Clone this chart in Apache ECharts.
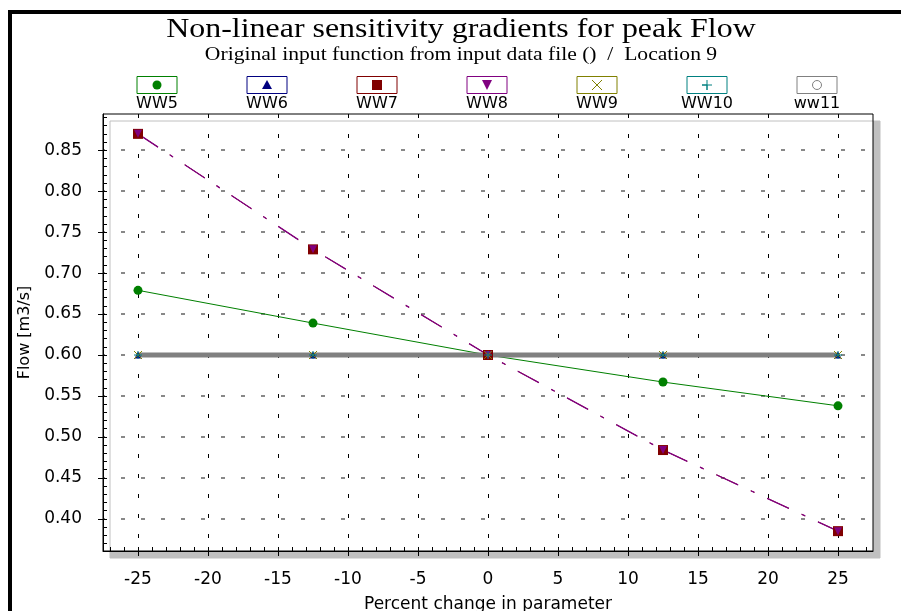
<!DOCTYPE html>
<html>
<head>
<meta charset="utf-8">
<script src="https://cdn.jsdelivr.net/npm/echarts@6/dist/echarts.min.js"></script>
<style>html,body{margin:0;padding:0;background:#fff}#c{width:901px;height:611px}</style>
</head>
<body>
<div id="c"></div>
<script>
// ---- data ----
const xValues = [-25, -12.5, 0, 12.5, 25];
const seriesNames = ['WW5', 'WW6', 'WW7', 'WW8', 'WW9', 'WW10', 'ww11'];
const ww5  = [0.679, 0.639, 0.600, 0.567, 0.538];
const ww6  = [0.600, 0.600, 0.600, 0.600, 0.600];
const ww7  = [0.870, 0.729, 0.600, 0.484, 0.385];
const ww8  = [0.870, 0.729, 0.600, 0.484, 0.385];
const ww9  = [0.600, 0.600, 0.600, 0.600, 0.600];
const ww10 = [0.600, 0.600, 0.600, 0.600, 0.600];
const ww11 = [0.600, 0.600, 0.600, 0.600, 0.600];
const xTickLabels = [-25, -20, -15, -10, -5, 0, 5, 10, 15, 20, 25];
const yTickLabels = [0.40, 0.45, 0.50, 0.55, 0.60, 0.65, 0.70, 0.75, 0.80, 0.85];

// ---- styling ----
const colors = ['#008000', '#000080', '#800000', '#800080', '#808000', '#008080', '#808080'];
const xMin = -27.5, xMax = 27.5, yMin = 0.36075, yMax = 0.89425;
const xMinor = []; for (let v = -27; v <= 27; v++) xMinor.push(v);
const yMinor = []; for (let k = 37; k <= 89; k++) yMinor.push(k / 100);
const SANS = '"DejaVu Sans", Verdana, sans-serif';

const G = {left: 103, top: 114, width: 770, height: 437};
const pair = arr => arr.map((v, i) => [xValues[i], v]);

const crossPath = 'path://M0,0L10,10M10,0L0,10';
const plusPath = 'path://M5,0L5,10M0,5L10,5';
const dashDot = [24, 14, 4, 14];

const series = [
  {name: 'WW5', data: pair(ww5), symbol: 'circle', symbolSize: 9,
   itemStyle: {color: colors[0]}, lineStyle: {color: colors[0], width: 1}},
  {name: 'WW6', data: pair(ww6), symbol: 'triangle', symbolSize: 7,
   itemStyle: {color: colors[1]}, lineStyle: {color: colors[1], width: 1}},
  {name: 'WW7', data: pair(ww7), symbol: 'rect', symbolSize: 10,
   itemStyle: {color: colors[2]}, lineStyle: {color: colors[2], width: 1, type: dashDot}},
  {name: 'WW8', data: pair(ww8), symbol: 'triangle', symbolRotate: 180, symbolSize: 8,
   itemStyle: {color: colors[3]}, lineStyle: {color: colors[3], width: 1.3, type: dashDot}},
  {name: 'WW9', data: pair(ww9), symbol: crossPath, symbolSize: 8,
   itemStyle: {color: 'none', borderColor: colors[4], borderWidth: 1}, lineStyle: {color: colors[4], width: 1}},
  {name: 'WW10', data: pair(ww10), symbol: plusPath, symbolSize: 8,
   itemStyle: {color: 'none', borderColor: colors[5], borderWidth: 1}, lineStyle: {color: colors[5], width: 1}},
  {name: 'ww11', data: pair(ww11), symbol: 'none',
   itemStyle: {color: colors[6]}, lineStyle: {color: colors[6], width: 5}}
].map(s => Object.assign({type: 'line', xAxisIndex: 0, yAxisIndex: 0, showSymbol: true, animation: false,
  emphasis: {disabled: true}}, s));

// ---- legend built as graphics ----
const legendGraphics = [];
seriesNames.forEach((name, i) => {
  const cx = 157 + 110 * i, cy = 85, c = colors[i];
  const children = [
    {type: 'rect', shape: {x: cx - 20, y: 76.5, width: 40, height: 17}, style: {fill: '#fff', stroke: c, lineWidth: 1}},
    {type: 'text', style: {text: name, x: cx, y: 104, align: 'center', verticalAlign: 'middle',
      font: '16px ' + SANS, fill: '#000'}}
  ];
  let sym;
  if (i === 0) sym = {type: 'circle', shape: {cx: cx, cy: cy, r: 4.5}, style: {fill: c}};
  else if (i === 1) sym = {type: 'polygon', shape: {points: [[cx, cy - 5], [cx + 5, cy + 4], [cx - 5, cy + 4]]}, style: {fill: c}};
  else if (i === 2) sym = {type: 'rect', shape: {x: cx - 5, y: cy - 5, width: 10, height: 10}, style: {fill: c}};
  else if (i === 3) sym = {type: 'polygon', shape: {points: [[cx - 5, cy - 5], [cx + 5, cy - 5], [cx, cy + 5]]}, style: {fill: c}};
  else if (i === 4) sym = {type: 'polyline', shape: {points: [[cx - 5, cy - 5], [cx + 5, cy + 5], [cx, cy], [cx + 5, cy - 5], [cx - 5, cy + 5]]}, style: {stroke: c, fill: 'none', lineWidth: 1}};
  else if (i === 5) sym = {type: 'polyline', shape: {points: [[cx, cy - 5], [cx, cy + 5], [cx, cy], [cx - 5, cy], [cx + 5, cy]]}, style: {stroke: c, fill: 'none', lineWidth: 1}};
  else sym = {type: 'circle', shape: {cx: cx, cy: cy, r: 4.5}, style: {fill: '#fff', stroke: c, lineWidth: 1}};
  children.push(sym);
  legendGraphics.push({type: 'group', children: children});
});

const chart = echarts.init(document.getElementById('c'), null, {renderer: 'canvas'});
chart.setOption({
  animation: false,
  backgroundColor: '#fff',
  grid: Object.assign({show: true, backgroundColor: '#fff', borderColor: '#000', borderWidth: 1,
    shadowColor: '#c0c0c0', shadowBlur: 0, shadowOffsetX: 7, shadowOffsetY: 7,
    containLabel: false, outerBoundsMode: 'none'}, G),
  xAxis: [
    {type: 'value', min: xMin, max: xMax, position: 'bottom',
     name: 'Percent change in parameter', nameLocation: 'middle', nameGap: 45,
     nameTextStyle: {fontFamily: SANS, fontSize: 17, color: '#000'},
     axisLine: {show: true, onZero: false, lineStyle: {color: '#000', width: 1}},
     axisTick: {show: true, inside: false, length: 5, customValues: xTickLabels, lineStyle: {color: '#000'}},
     axisLabel: {show: true, customValues: xTickLabels, margin: 20, fontFamily: SANS, fontSize: 17, color: '#000'},
     splitLine: {show: true, lineStyle: {color: '#000', width: 1, type: [4, 16], dashOffset: 0}}},
    {type: 'value', min: xMin, max: xMax, position: 'bottom', offset: 0,
     axisLine: {show: false, onZero: false},
     axisTick: {show: true, inside: true, length: 4, customValues: xMinor, lineStyle: {color: '#000'}},
     axisLabel: {show: false}, splitLine: {show: false}}
  ],
  yAxis: [
    {type: 'value', min: yMin, max: yMax, position: 'left',
     name: 'Flow [m3/s]', nameLocation: 'middle', nameGap: 63,
     nameTextStyle: {fontFamily: SANS, fontSize: 16, color: '#000'},
     axisLine: {show: true, onZero: false, lineStyle: {color: '#000', width: 1}},
     axisTick: {show: true, inside: false, length: 5, customValues: yTickLabels, lineStyle: {color: '#000'}},
     axisLabel: {show: true, customValues: yTickLabels, margin: 21, formatter: v => v.toFixed(2),
       fontFamily: SANS, fontSize: 17, color: '#000'},
     splitLine: {show: true, lineStyle: {color: '#888', width: 2, type: [4, 16], dashOffset: 2}}},
    {type: 'value', min: yMin, max: yMax, position: 'left', offset: 0,
     axisLine: {show: false, onZero: false},
     axisTick: {show: true, inside: true, length: 4, customValues: yMinor, lineStyle: {color: '#000'}},
     axisLabel: {show: false}, splitLine: {show: false}}
  ],
  series: series,
  graphic: [
    {type: 'rect', z: 100, silent: true, shape: {x: 10, y: 12, width: 1000, height: 1000},
     style: {fill: 'none', stroke: '#000', lineWidth: 4}},
    {type: 'text', x: 461, y: 30, scaleX: 1.14, style: {text: 'Non-linear sensitivity gradients for peak Flow', x: 0, y: 0,
      align: 'center', verticalAlign: 'middle', font: '28px "Liberation Serif", "Times New Roman", serif', fill: '#000'}},
    {type: 'text', x: 461, y: 55, scaleX: 1.2, style: {text: 'Original input function from input data file ()  /  Location 9', x: 0, y: 0,
      align: 'center', verticalAlign: 'middle', font: '18px "Liberation Serif", "Times New Roman", serif', fill: '#000'}}
  ].concat(legendGraphics)
});
</script>
</body>
</html>
